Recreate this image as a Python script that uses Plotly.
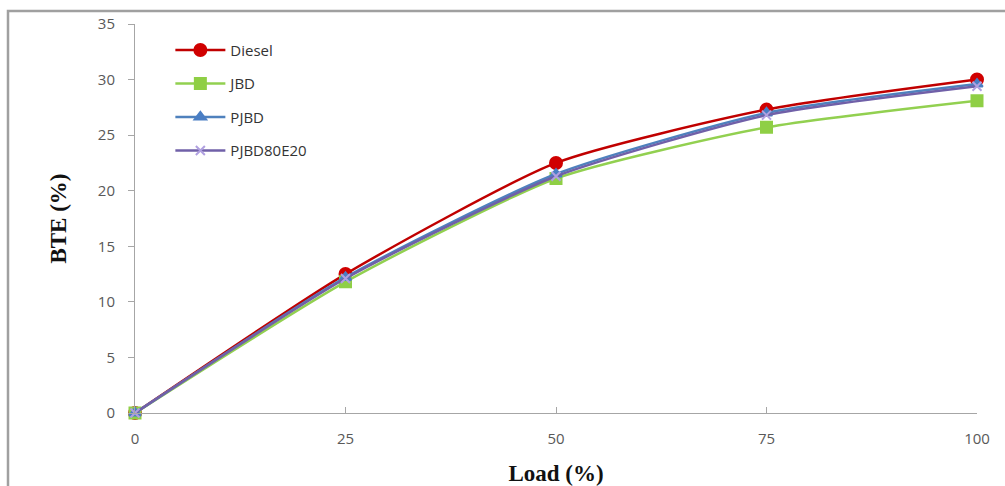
import plotly.graph_objects as go

load = [0, 25, 50, 75, 100]
diesel = [0, 12.5, 22.5, 27.3, 30.0]
jbd = [0, 11.8, 21.1, 25.7, 28.1]
pjbd = [0, 12.2, 21.5, 27.0, 29.6]
pjbd80e20 = [0, 12.1, 21.3, 26.8, 29.4]

y_ticks = [0, 5, 10, 15, 20, 25, 30, 35]
x_ticks = [0, 25, 50, 75, 100]

series = [
    ("Diesel", diesel, "#C00000", "#D00000", "circle", 12),
    ("JBD", jbd, "#92D050", "#8FCF45", "square", 11),
    ("PJBD", pjbd, "#4F81BD", "#4A7EC4", "triangle-up", 10),
    ("PJBD80E20", pjbd80e20, "#7060A8", "#B0A0E0", "x-thin-open", 9),
]

fig = go.Figure()
for name, vals, lc, mc, sym, ms in series:
    fig.add_trace(go.Scatter(
        x=load, y=vals, name=name, mode="lines+markers", legendgroup=name,
        line=dict(color=lc, width=2.5, shape="spline", smoothing=0.6),
        marker=dict(symbol=sym, size=ms, color=mc,
                    line=dict(color=mc, width=2)),
        cliponaxis=False,
    ))

tick_font = dict(family="Open Sans, Liberation Sans, sans-serif",
                 size=15, color="#595959")
title_font = dict(family="Liberation Serif, Times New Roman, serif",
                  size=23, color="#111111")

fig.update_layout(
    width=1005, height=486,
    margin=dict(l=135, r=28, t=24, b=73),
    paper_bgcolor="white", plot_bgcolor="white",
    showlegend=True,
    legend=dict(
        x=0.042, y=0.975, xanchor="left", yanchor="top",
        font=dict(family="Open Sans, Liberation Sans, sans-serif",
                  size=15, color="#333333"),
        bgcolor="rgba(0,0,0,0)", itemwidth=50,
        traceorder="grouped", tracegroupgap=11,
    ),
    xaxis=dict(
        range=[0, 100], tickvals=x_ticks, ticktext=[str(v) for v in x_ticks],
        showgrid=False, zeroline=False, showline=True,
        linecolor="#A6A6A6", linewidth=1,
        ticks="inside", ticklen=6, tickcolor="#A6A6A6",
        ticklabelstandoff=12, automargin=False,
        tickfont=tick_font,
        title=dict(text="<b>Load (%)</b>", standoff=18, font=title_font),
    ),
    yaxis=dict(
        range=[0, 35], tickvals=y_ticks,
        showgrid=False, zeroline=False, showline=True,
        linecolor="#A6A6A6", linewidth=1,
        ticks="outside", ticklen=6, tickcolor="#A6A6A6",
        ticklabelstandoff=10, automargin=False,
        tickfont=tick_font,
        title=dict(text="<b>BTE (%)</b>", standoff=24, font=title_font),
    ),
)

# outer chart frame
fig.add_shape(type="rect", xref="paper", yref="paper",
              x0=(8 - 135) / 842, x1=(1010 - 135) / 842,
              y0=(413 - 495) / 389, y1=(413 - 11) / 389,
              line=dict(color="#A0A0A0", width=2.5), layer="below")

fig.write_html("out.html")
